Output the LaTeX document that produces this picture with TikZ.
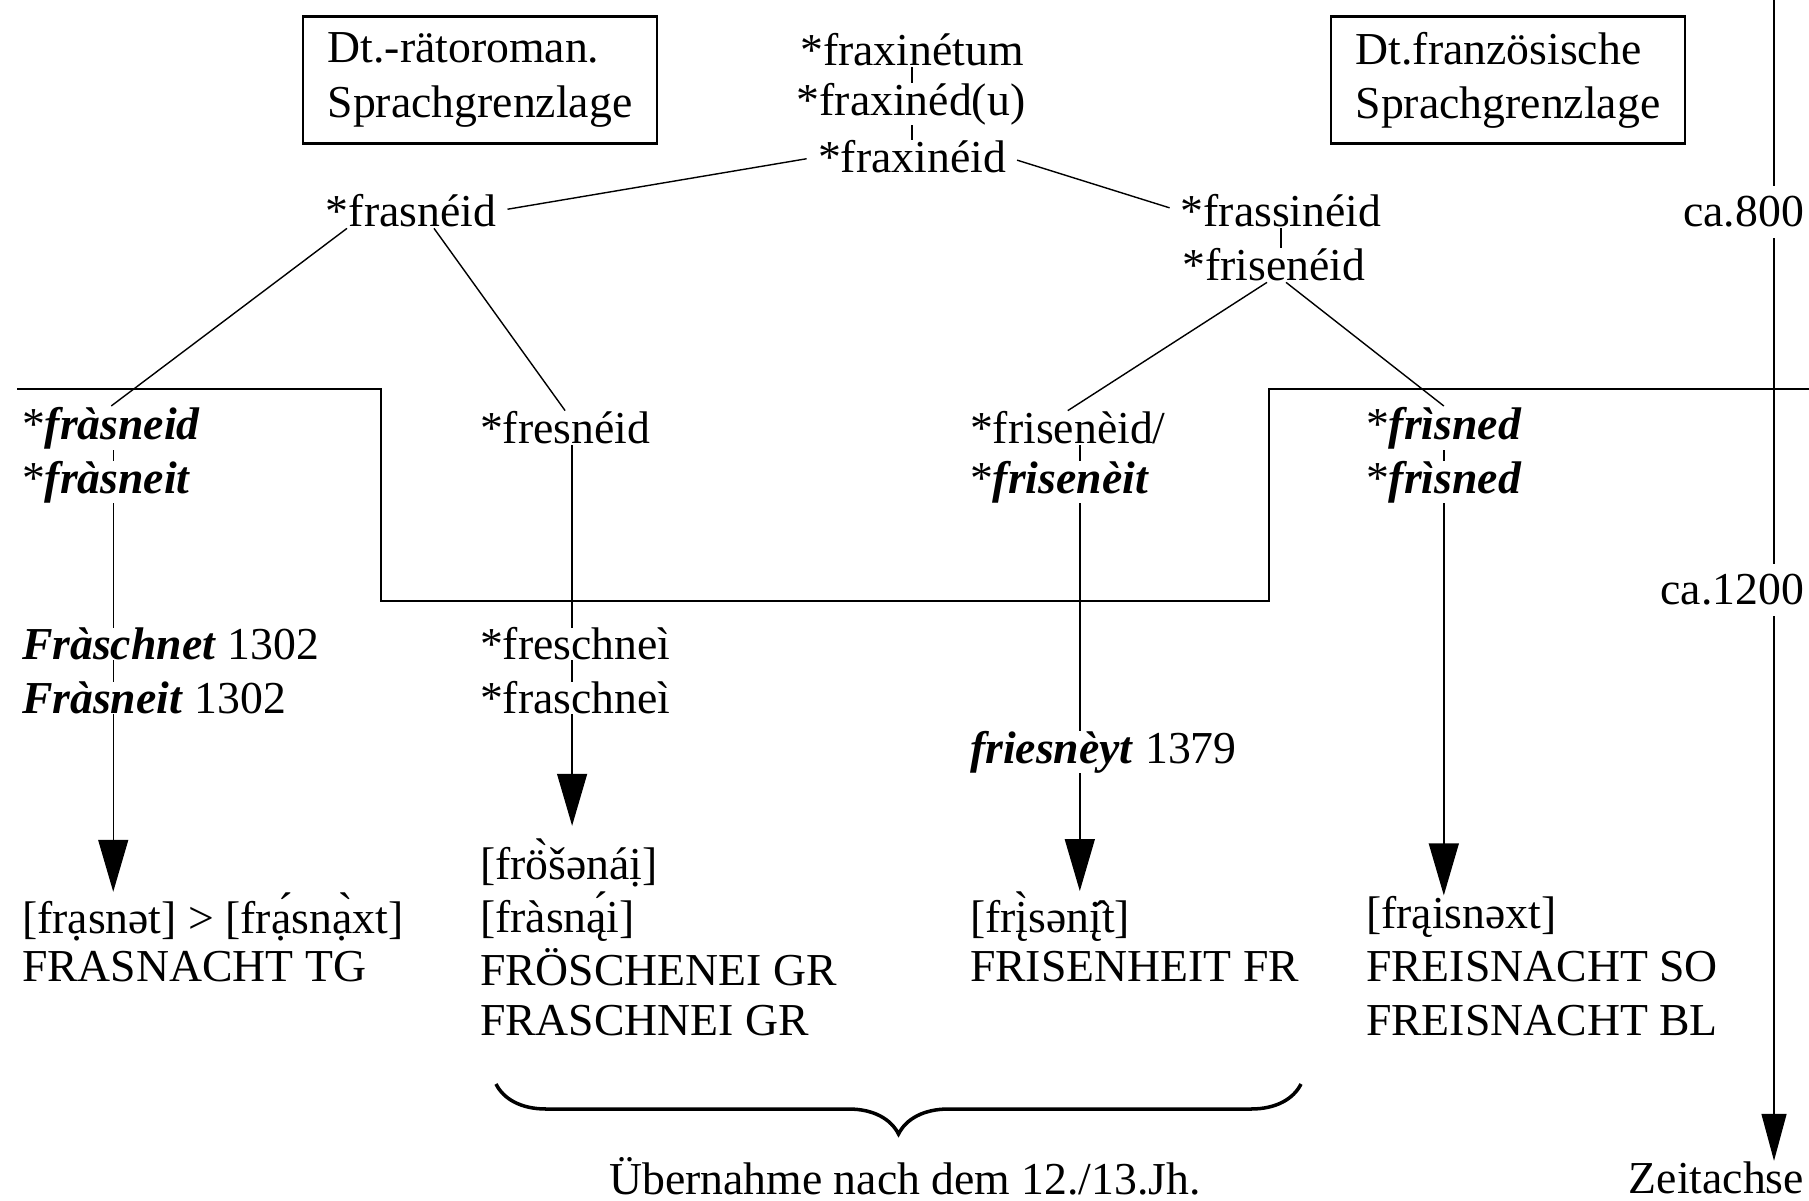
\documentclass[tikz,border=0pt]{standalone}
\usepackage{fontspec}
\setmainfont{Liberation Serif}
\usetikzlibrary{arrows.meta,calc,backgrounds,decorations.pathreplacing}
\newcommand{\bi}[1]{\textbf{\textit{#1}}}
\newcommand{\fs}{\fontsize{13}{15.4}\selectfont}

\begin{document}
\begin{tikzpicture}[x=0.01cm,y=-0.01cm,line width=0.6pt,
    wnode/.style={anchor=west,inner sep=0pt,fill=white,font=\fs},
    cnode/.style={inner sep=0pt,fill=white,font=\fs},
    tnode/.style={anchor=east,inner xsep=0pt,inner ysep=3pt,fill=white,font=\fs},
    bnode/.style={draw,align=left,inner xsep=6pt,minimum width=3.54cm,minimum height=1.27cm,font=\fs},
    arr/.style={-{Triangle[width=0.3cm,length=0.52cm]}},
    axarr/.style={-{Triangle[width=0.25cm,length=0.47cm]}}]
    \useasboundingbox (0,0) rectangle (1809,1201);

    % boxes
    \node[bnode] (rbox) at (480,80) {Dt.-rätoroman.\\Sprachgrenzlage};
    \node[bnode] (fbox) at (1508,80) {Dt.französische\\Sprachgrenzlage};

    % top of the tree
    \node[cnode] (fraxinetum) at (912,50) {*fraxinétum};
    \node[cnode] (fraxined) at (911,104) {*fraxinéd(u)};
    \node[cnode] (fraxineid) at (912,157) {*fraxinéid};
    \node[cnode] (frasneid) at (411,211) {*frasnéid};
    \node[cnode] (frassineid) at (1281,211) {*frassinéid};
    \node[cnode] (frisenheid) at (1274,265) {*frisenéid};

    % column 1
    \node[wnode] (fraskneid) at (21,428) {*\bi{fràsneid}};
    \node[wnode] (fraskneit) at (21,482) {*\bi{fràsneit}};
    \node[wnode] (fraschnet) at (21,644) {\bi{Fràschnet} 1302};
    \node[wnode] (frasneit) at (21,698) {\bi{Fràsneit} 1302};
    \node[wnode] (phonA) at (21,917) {[frạsnət] > [frạ́snạ̀xt]};
    \node[wnode] (frasnacht) at (21,967) {FRASNACHT TG};

    % column 2
    \node[wnode] (fresneid) at (479,428) {*fresnéid};
    \node[wnode] (freschnei) at (479,644) {*freschneì};
    \node[wnode] (fraschnei) at (479,698) {*fraschneì};
    \node[wnode] (phonB) at (479,863) {[frö̀šənáị]};
    \node[wnode] (phonC) at (479,917) {[fràsną́i]};
    \node[wnode] (froeschenei) at (479,967) {FRÖSCHENEI GR};
    \node[wnode] (fraschneigr) at (479,1021) {FRASCHNEI GR};

    % column 3
    \node[wnode] (friseneid) at (969,428) {*frisenèid/};
    \node[wnode] (friseneit) at (969,482) {*\bi{frisenèit}};
    \node[wnode] (friesneyt) at (969,752) {\bi{friesnèyt} 1379};
    \node[wnode] (phonD) at (969,917) {[frį̀sənį̂t]};
    \node[wnode] (frisenheit) at (969,967) {FRISENHEIT FR};

    % column 4
    \node[wnode] (frisnedA) at (1365,428) {*\bi{frìsned}};
    \node[wnode] (frisnedB) at (1365,482) {*\bi{frìsned}};
    \node[wnode] (phonE) at (1365,917) {[frąisnəxt]};
    \node[wnode] (freisnachtso) at (1365,967) {FREISNACHT SO};
    \node[wnode] (freisnachtbl) at (1365,1021) {FREISNACHT BL};

    % time axis
    \coordinate (axtop) at (1774,0);
    \node[tnode] (ca800) at (1805,212) {ca.800};
    \node[tnode] (ca1200) at (1805,590) {ca.1200};
    \node[anchor=east,inner sep=0pt,font=\fs] (zeit) at (1805,1178) {Zeitachse};

    % brace
    \coordinate (braceR) at (1301,1084);
    \coordinate (braceL) at (496,1084);
    \draw[line width=1pt,decorate,decoration={brace,amplitude=0.5cm}] (braceR) -- (braceL);
    \node[cnode] (uebernahme) at (905,1176) {Übernahme nach dem 12./13.Jh.};

    \begin{scope}[on background layer]
        % connectors
        \draw[shorten <=3pt,shorten >=3pt] (fraxineid.west) -- (frasneid.east);
        \draw[shorten <=3pt,shorten >=3pt] (fraxineid.east) -- (frassineid.west);
        \draw (fraxinetum.south) -- (fraxineid.north);
        \draw (frassineid.south) -- (frassineid.south |- frisenheid.north);
        \draw ($(frasneid.south)+(-64,0)$) -- (fraskneid.north);
        \draw ($(frasneid.south)+(23,0)$) -- (fresneid.north);
        \draw ($(frisenheid.south)+(-7,0)$) -- (friseneid.north);
        \draw ($(frisenheid.south)+(12,0)$) -- (frisnedA.north);
        % vertical arrows
        \coordinate (cA) at ($(fraskneid.south)+(2,0)$);
        \coordinate (cB) at ($(fresneid.south)+(7,0)$);
        \coordinate (cC) at ($(friseneid.south)+(12,0)$);
        \coordinate (cD) at (frisnedA.south);
        \draw[arr] (cA) -- (cA |- phonA.north);
        \draw[arr] (cB) -- ($(cB |- phonB.north)+(0,-12)$);
        \draw[arr] (cC) -- (cC |- phonD.north);
        \draw[arr] (cD) -- (cD |- phonE.north);
        \draw[axarr] (axtop) -- (axtop |- zeit.north);
        % language border
        \draw (17,389) -- (381,389) -- (381,601) -- (1269,601) -- (1269,389) -- (1809,389);
    \end{scope}
\end{tikzpicture}
\end{document}
